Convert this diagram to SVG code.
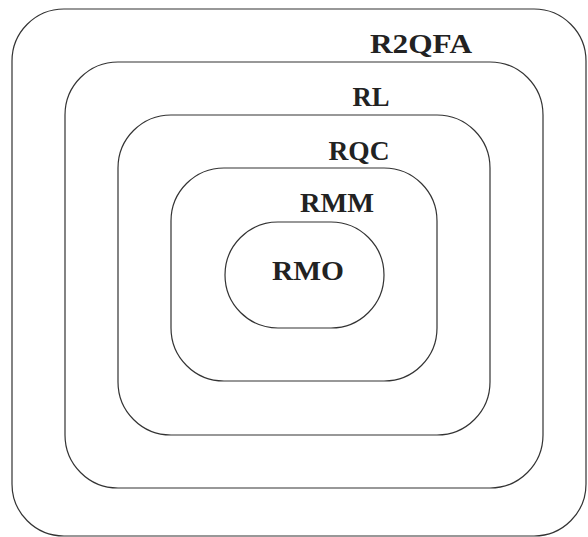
<svg xmlns="http://www.w3.org/2000/svg" width="588" height="537" viewBox="0 0 588 537">
  <style>
    .ring { fill: none; stroke: #333; stroke-width: 1.2; }
    .lbl { font-family: "Liberation Serif", "Times New Roman", serif; font-weight: bold; font-size: 27px; fill: #222; text-anchor: middle; }
  </style>
  <rect width="588" height="537" fill="#fff"/>
  <g id="r2qfa">
    <rect class="ring" x="12" y="9" width="574" height="527" rx="52" ry="52"/>
    <text class="lbl" x="421" y="53" textLength="102" lengthAdjust="spacingAndGlyphs">R2QFA</text>
  </g>
  <g id="rl">
    <rect class="ring" x="65" y="62" width="478" height="426" rx="53" ry="53"/>
    <text class="lbl" x="371" y="106" textLength="37" lengthAdjust="spacingAndGlyphs">RL</text>
  </g>
  <g id="rqc">
    <rect class="ring" x="118" y="115" width="372" height="320" rx="53" ry="53"/>
    <text class="lbl" x="359" y="160" textLength="61" lengthAdjust="spacingAndGlyphs">RQC</text>
  </g>
  <g id="rmm">
    <rect class="ring" x="171" y="168" width="266" height="213" rx="53" ry="53"/>
    <text class="lbl" x="337" y="212" textLength="74" lengthAdjust="spacingAndGlyphs">RMM</text>
  </g>
  <g id="rmo">
    <rect class="ring" x="225" y="222" width="159" height="106" rx="53" ry="53"/>
    <text class="lbl" x="308" y="280" textLength="72" lengthAdjust="spacingAndGlyphs">RMO</text>
  </g>
</svg>
